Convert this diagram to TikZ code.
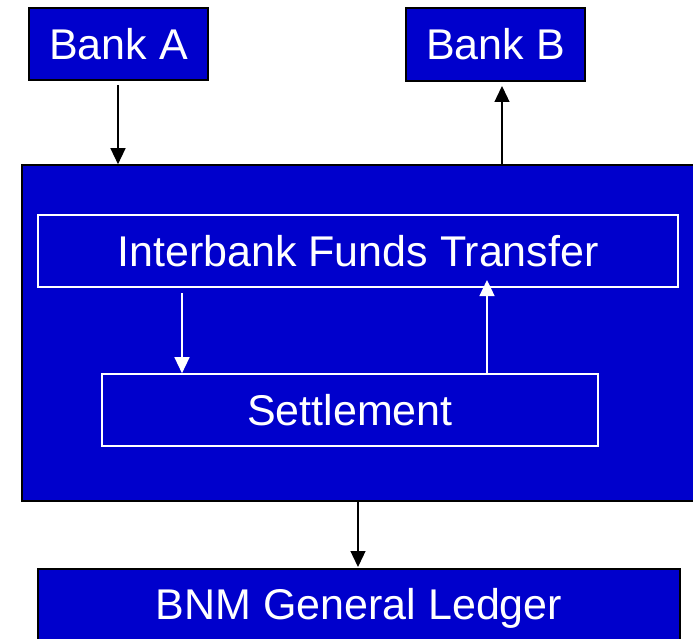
\documentclass[tikz,border=0pt]{standalone}
\usepackage{fontspec}
\setmainfont{Liberation Sans}
\usetikzlibrary{arrows.meta,calc}
\definecolor{bnmblue}{RGB}{0,0,204}
\begin{document}
\begin{tikzpicture}[x=1pt,y=-1pt,
  outerbox/.style={draw=black,line width=1.6pt,fill=bnmblue,text=white,inner sep=0pt,
    font=\fontsize{43}{48}\selectfont},
  innerbox/.style={draw=white,line width=1.6pt,fill=bnmblue,text=white,inner sep=0pt,
    font=\fontsize{43}{48}\selectfont},
  blackarrow/.style={draw=black,line width=1.3pt,-{Triangle[width=15pt,length=16pt]}},
  whitearrow/.style={draw=white,line width=1.3pt,-{Triangle[width=15pt,length=16pt]},color=white}]
\useasboundingbox (0,0) rectangle (693,639);
\begin{scope}
\clip (0,0) rectangle (693,639);
\node[outerbox,minimum width=179pt,minimum height=72pt] (A) at (118.5,44) {Bank A};
\node[outerbox,minimum width=179pt,minimum height=73pt] (B) at (495.5,44.5) {Bank B};
\node[outerbox,minimum width=674pt,minimum height=336pt] (big) at (359,333) {};
\node[innerbox,minimum width=640pt,minimum height=72pt] (ifb) at (358,251) {Interbank Funds Transfer};
\node[innerbox,minimum width=496pt,minimum height=72pt] (set) at (350,410) {Settlement};
\node[outerbox,minimum width=642pt,minimum height=78pt] (bnm) at (359,608) {BNM General Ledger};
\coordinate (bfoot) at (502,86);
\coordinate (aout) at (118,85);
\coordinate (ifbout) at (182,293);
\coordinate (ifbin) at (487,280);
\coordinate (bigout) at (358,501);
\coordinate (bnmin) at (358,567);
\draw[blackarrow] (aout) -- (aout |- big.north);
\draw[blackarrow] (bfoot |- big.north) -- (bfoot);
\draw[whitearrow] (ifbout) -- (ifbout |- set.north);
\draw[whitearrow] (ifbin |- set.north) -- (ifbin);
\draw[blackarrow] (bigout) -- (bnmin);
\end{scope}
\end{tikzpicture}
\end{document}
